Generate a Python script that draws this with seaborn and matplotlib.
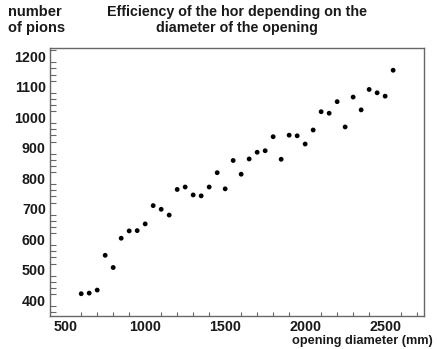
import matplotlib
matplotlib.use("Agg")
import matplotlib.pyplot as plt
import seaborn as sns
import pandas as pd
from matplotlib.ticker import MultipleLocator

diameter_mm = [600, 650, 700, 750, 800, 850, 900, 950, 1000, 1050,
               1100, 1150, 1200, 1250, 1300, 1350, 1400, 1450, 1500, 1550,
               1600, 1650, 1700, 1750, 1800, 1850, 1900, 1950, 2000, 2050,
               2100, 2150, 2200, 2250, 2300, 2350, 2400, 2450, 2500, 2550]
pions = [421, 423, 433, 547, 507, 603, 627, 628, 650, 710,
         698, 679, 763, 771, 745, 742, 771, 818, 765, 858,
         813, 863, 885, 890, 936, 862, 941, 939, 912, 958,
         1018, 1013, 1051, 968, 1066, 1024, 1091, 1080, 1069, 1154]

title = "Efficiency of the hor depending on the\ndiameter of the opening"
ylabel = "number\nof pions"
xlabel = "opening diameter (mm)"

sns.set_style("white")
plt.rcParams['font.family'] = ['Liberation Sans', 'DejaVu Sans']

df = pd.DataFrame({"d": diameter_mm, "n": pions})

fig = plt.figure(figsize=(4.37, 3.49), dpi=100)
ax = fig.add_axes([0.1144, 0.0946, 0.971 - 0.1144, 0.8625 - 0.0946])
sns.scatterplot(data=df, x="d", y="n", ax=ax, color="black", s=12,
                edgecolor="none", linewidth=0)

ax.set_xlim(405, 2745)
ax.set_ylim(348, 1227)
ax.xaxis.set_major_locator(MultipleLocator(500))
ax.xaxis.set_minor_locator(MultipleLocator(100))
ax.yaxis.set_major_locator(MultipleLocator(100))
ax.yaxis.set_minor_locator(MultipleLocator(20))

frame_col = "#666666"
for sp in ax.spines.values():
    sp.set_color(frame_col)
    sp.set_linewidth(1.0)
    sp.set_visible(True)

ax.tick_params(axis="y", which="major", direction="in", length=8, width=0.8,
               color=frame_col, pad=3, labelsize=10.3, labelcolor="#1a1a1a")
ax.tick_params(axis="y", which="minor", direction="in", length=4.5, width=0.8,
               color=frame_col, left=True)
ax.tick_params(axis="x", which="major", direction="in", length=5, width=0.8,
               color=frame_col, pad=3, labelsize=10.3, labelcolor="#1a1a1a")
ax.tick_params(axis="x", which="minor", direction="in", length=3, width=0.8,
               color=frame_col, bottom=True)
for lab in ax.get_xticklabels() + ax.get_yticklabels():
    lab.set_fontweight("bold")

ax.set_xlabel("")
ax.set_ylabel("")
fig.text(0.991, 0.005, xlabel, ha="right", va="bottom", fontsize=9.2,
         fontweight="bold", color="#1a1a1a")
fig.text(0.018, 0.985, ylabel, ha="left", va="top", fontsize=10.5,
         fontweight="bold", color="#1a1a1a", linespacing=1.15)
fig.text(0.542, 0.985, title, ha="center", va="top", fontsize=10.3,
         fontweight="bold", color="#1a1a1a", linespacing=1.15)

fig.savefig("out.png", dpi=100)
